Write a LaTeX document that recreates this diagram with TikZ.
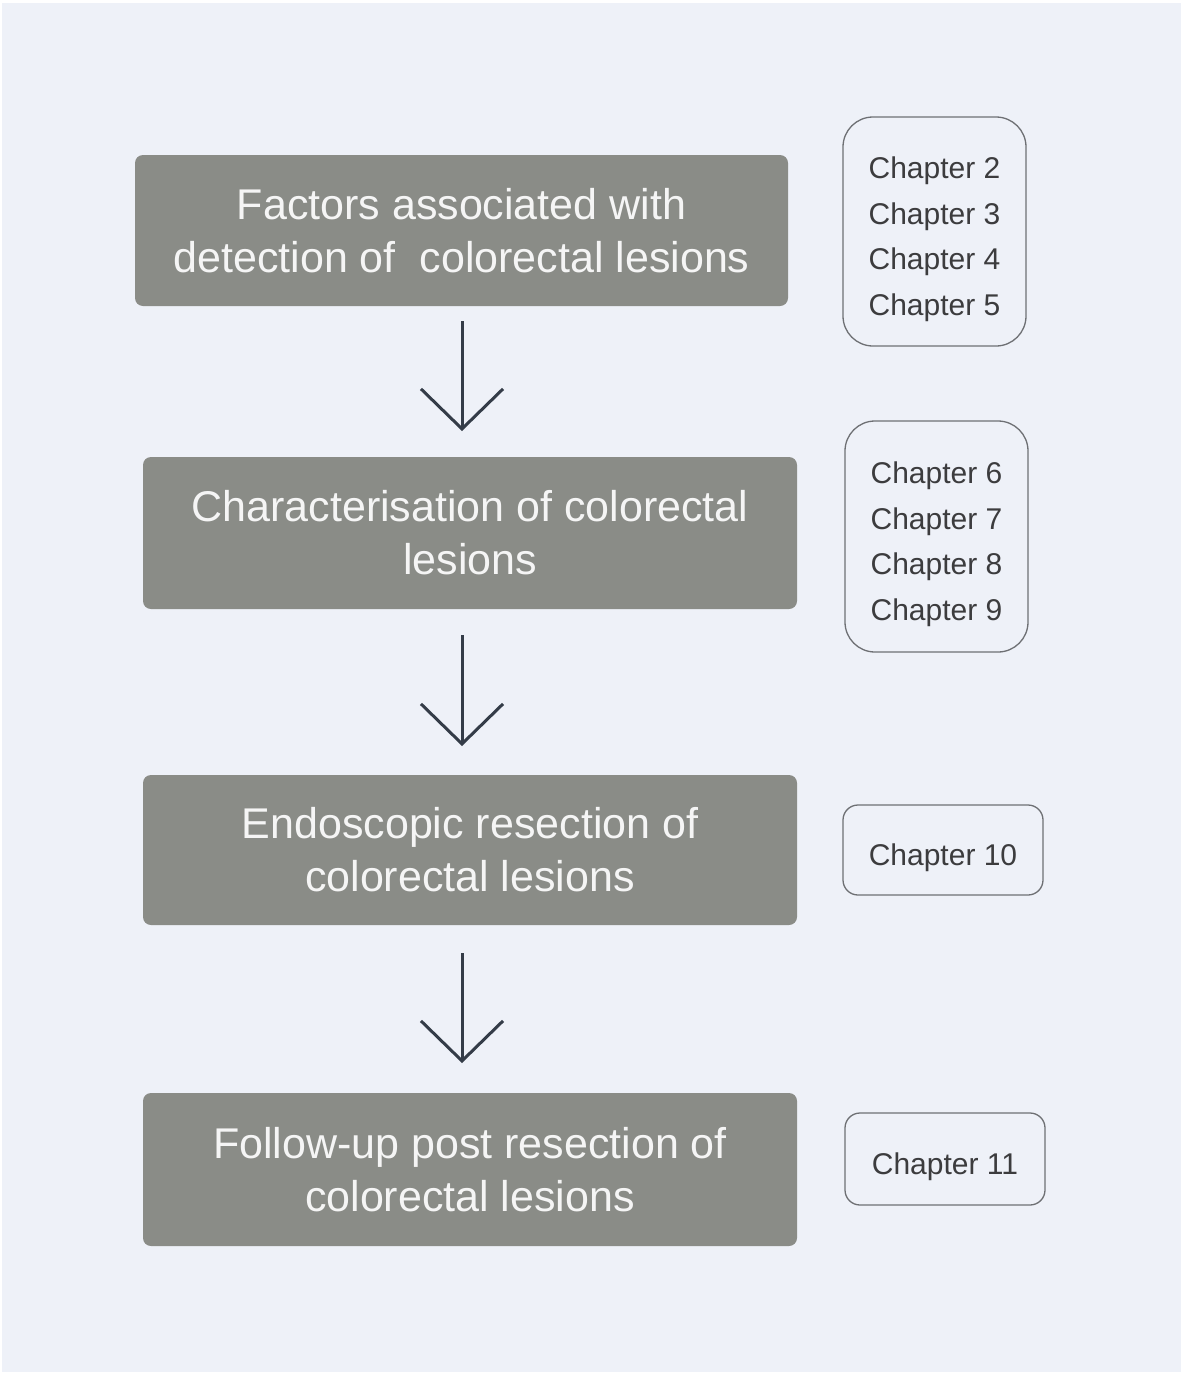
\documentclass[tikz,border=0pt]{standalone}
\usepackage{fontspec}
\setmainfont{Liberation Sans}
\usetikzlibrary{arrows.meta}
\definecolor{bgc}{RGB}{238,241,248}
\definecolor{boxc}{RGB}{138,140,135}
\definecolor{chapc}{RGB}{60,60,62}
\definecolor{arrc}{RGB}{52,60,72}
\definecolor{edgec}{RGB}{110,112,116}
\newcommand{\chaplist}[1]{\raisebox{-6.5pt}[\height][\depth]{\begin{tabular}{@{}c@{}}#1\end{tabular}}}
\tikzset{
  stagebox/.style={fill=boxc, rounded corners=8pt, text=white!96!black, align=center,
    font=\fontsize{43}{53}\selectfont, inner sep=0pt},
  chapbox/.style={draw=edgec, line width=1.3pt, text=chapc,
    font=\fontsize{30}{45.5}\selectfont, inner sep=0pt},
  flowarrow/.style={draw=arrc, line width=3pt,
    -{Straight Barb[length=40pt,width=82pt,line width=3pt]}}
}
\begin{document}
\begin{tikzpicture}[x=1pt,y=-1pt]
\useasboundingbox (0,0) rectangle (1183,1376);
\fill[white] (0,0) rectangle (1183,1376);
\fill[bgc] (2,3) rectangle (1181,1372);

\node[stagebox, minimum width=653pt, minimum height=151pt] (b1) at (461.5,230.5)
  {Factors associated with\\detection of \ colorectal lesions};
\node[stagebox, minimum width=654pt, minimum height=152pt] (b2) at (470,533)
  {Characterisation of colorectal\\lesions};
\node[stagebox, minimum width=654pt, minimum height=150pt] (b3) at (470,850)
  {Endoscopic resection of\\colorectal lesions};
\node[stagebox, minimum width=654pt, minimum height=153pt] (b4) at (470,1169.5)
  {Follow-up post resection of\\colorectal lesions};

\node[chapbox, rounded corners=30pt, minimum width=183pt, minimum height=229pt] (c1) at (934.5,231.5)
  {\chaplist{Chapter 2\\Chapter 3\\Chapter 4\\Chapter 5}};
\node[chapbox, rounded corners=30pt, minimum width=183pt, minimum height=231pt] (c2) at (936.5,536.5)
  {\chaplist{Chapter 6\\Chapter 7\\Chapter 8\\Chapter 9}};
\node[chapbox, rounded corners=15pt, minimum width=200pt, minimum height=90pt] (c3) at (943,850)
  {\chaplist{Chapter 10}};
\node[chapbox, rounded corners=15pt, minimum width=200pt, minimum height=92pt] (c4) at (945,1159)
  {\chaplist{Chapter 11}};

\coordinate (a1s) at (462,321);
\coordinate (a1e) at (462,431);
\coordinate (a2s) at (462,635);
\coordinate (a2e) at (462,746);
\coordinate (a3s) at (462,953);
\coordinate (a3e) at (462,1063);
\draw[flowarrow] (a1s) -- (a1e);
\draw[flowarrow] (a2s) -- (a2e);
\draw[flowarrow] (a3s) -- (a3e);
\end{tikzpicture}
\end{document}
